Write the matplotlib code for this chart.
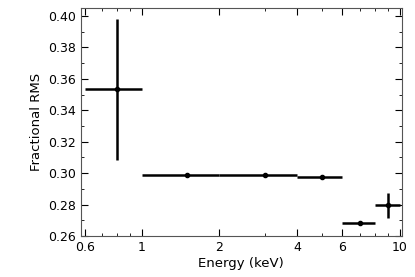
import matplotlib

matplotlib.use("Agg")
import matplotlib.pyplot as plt
from matplotlib.ticker import FixedLocator, FixedFormatter, MultipleLocator

# energy bins (keV) and fractional rms
e_lo = [0.6, 1.0, 2.0, 4.0, 6.0, 8.0]
e_hi = [1.0, 2.0, 4.0, 6.0, 8.0, 10.0]
e_mid = [0.8, 1.5, 3.0, 5.0, 7.0, 9.0]
rms = [0.3533, 0.2990, 0.2987, 0.2977, 0.2685, 0.2796]
rms_err = [0.0450, 0.0012, 0.0008, 0.0008, 0.0012, 0.0080]

xticks = [0.6, 1, 2, 4, 6, 10]
xticklabels = ["0.6", "1", "2", "4", "6", "10"]
xminor = [0.7, 0.8, 0.9, 3, 5, 7, 8, 9]

fig, ax = plt.subplots(figsize=(4.15, 2.77), dpi=100)
xerr = [[m - lo for m, lo in zip(e_mid, e_lo)], [hi - m for m, hi in zip(e_mid, e_hi)]]
ax.errorbar(e_mid, rms, xerr=xerr, yerr=rms_err, fmt="o", color="black",
            ms=3, elinewidth=1.8, capsize=0)

ax.set_xscale("log")
ax.set_xlim(0.58, 10.2)
ax.set_ylim(0.26, 0.405)
ax.xaxis.set_major_locator(FixedLocator(xticks))
ax.xaxis.set_major_formatter(FixedFormatter(xticklabels))
ax.xaxis.set_minor_locator(FixedLocator(xminor))
ax.xaxis.set_minor_formatter(FixedFormatter([""] * len(xminor)))
ax.yaxis.set_major_locator(MultipleLocator(0.02))
ax.yaxis.set_minor_locator(MultipleLocator(0.01))
ax.tick_params(which="both", direction="in", top=True, right=True, labelsize=9)
ax.tick_params(which="major", length=5)
ax.tick_params(which="minor", length=2.5)
for s in ax.spines.values():
    s.set_color("#555555")

ax.set_xlabel("Energy (keV)", fontsize=9.5, labelpad=2)
ax.set_ylabel("Fractional RMS", fontsize=9.5)

fig.subplots_adjust(left=0.195, right=0.968, top=0.971, bottom=0.148)
fig.savefig("out.png", dpi=100)
